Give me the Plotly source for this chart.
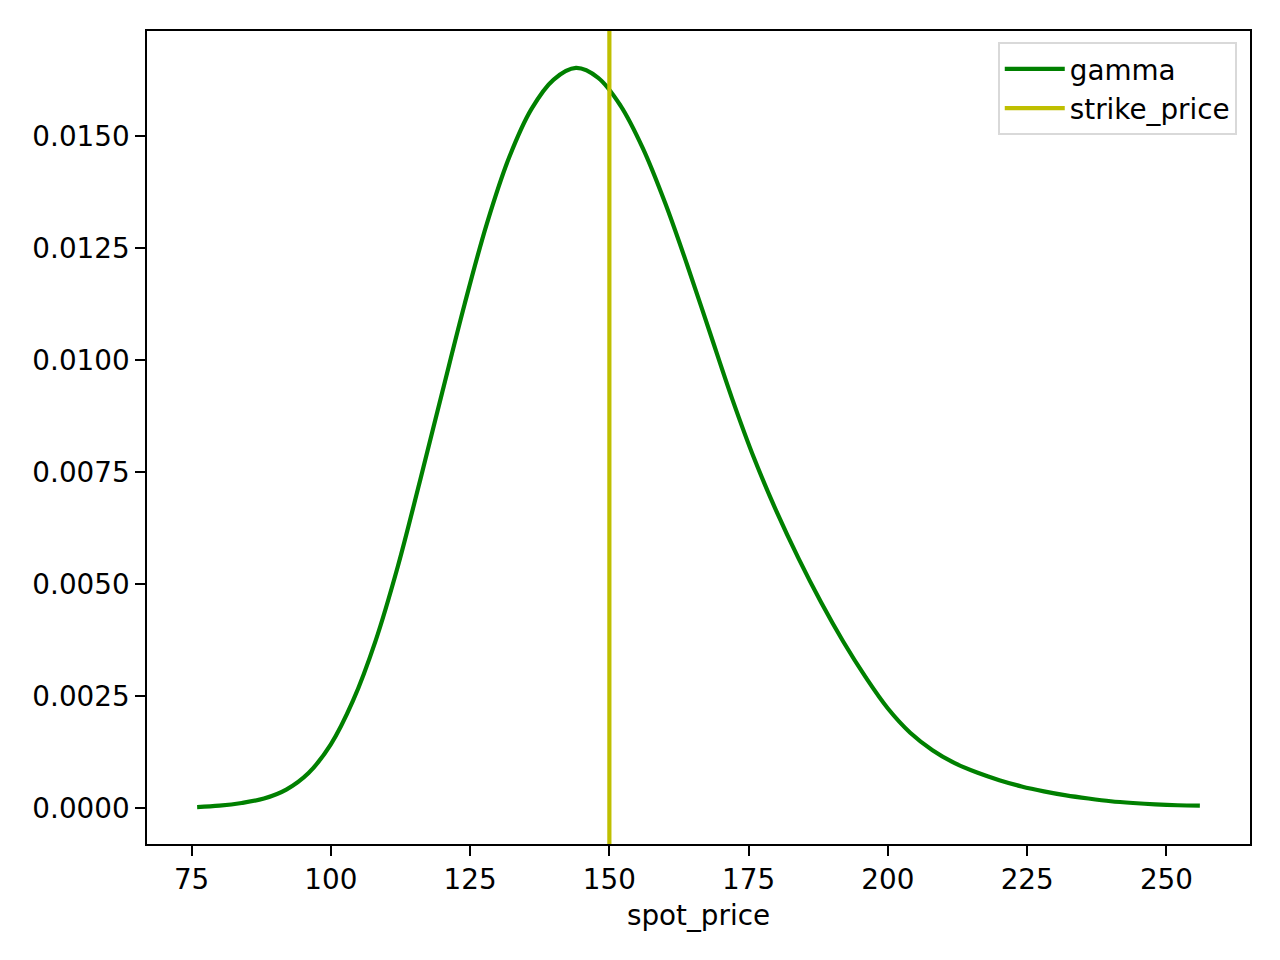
import plotly.graph_objects as go

# Data
spot_price = [76, 80, 84, 88, 92, 96, 100, 104, 108, 112, 116, 120, 124, 128, 132,
              136, 140, 144, 148, 152, 156, 160, 164, 168, 172, 176, 180, 184, 188,
              192, 196, 200, 204, 208, 212, 216, 220, 224, 228, 232, 236, 240, 244,
              248, 252, 256]
gamma = [0.00002, 0.00005, 0.00011, 0.00021, 0.00041, 0.00078, 0.00142, 0.00240,
         0.00372, 0.00538, 0.00730, 0.00928, 0.01124, 0.01304, 0.01452, 0.01560,
         0.01626, 0.01652, 0.01630, 0.01568, 0.01473, 0.01351, 0.01211, 0.01063,
         0.00915, 0.00780, 0.00662, 0.00556, 0.00459, 0.00371, 0.00292, 0.00222,
         0.00168, 0.00129, 0.00100, 0.00079, 0.00062, 0.00048, 0.00037, 0.00028,
         0.00021, 0.00015, 0.00011, 0.00008, 0.00006, 0.00005]
strike_price = 150

FONT = "DejaVu Sans"
FS = 27.8

xspan = max(spot_price) - min(spot_price)
xr = [min(spot_price) - 0.05 * xspan, max(spot_price) + 0.05 * xspan]
yspan = max(gamma) - min(gamma)
yr = [min(gamma) - 0.05 * yspan, max(gamma) + 0.05 * yspan]

fig = go.Figure()
fig.add_trace(go.Scatter(x=spot_price, y=gamma, mode="lines", name="gamma",
                         line=dict(color="#008000", width=4.2, shape="spline", smoothing=1.0)))
fig.add_trace(go.Scatter(x=[strike_price, strike_price], y=yr, mode="lines",
                         name="strike_price", line=dict(color="#bfbf00", width=4.2)))

axis_common = dict(showline=True, mirror=True, linecolor="black", linewidth=2.2,
                   ticks="outside", ticklen=9.7, tickwidth=2.2, tickcolor="black",
                   showgrid=False, zeroline=False,
                   tickfont=dict(family=FONT, size=FS, color="black"))

fig.update_layout(
    width=1280, height=960,
    paper_bgcolor="white", plot_bgcolor="white",
    margin=dict(l=139, r=38, t=23, b=124),
    font=dict(family=FONT, size=FS, color="black"),
    xaxis=dict(range=xr, tick0=0, dtick=25,
               title=dict(text="spot_price", font=dict(family=FONT, size=FS), standoff=10),
               **axis_common),
    yaxis=dict(range=yr, tick0=0, dtick=0.0025, tickformat=".4f", **axis_common),
    legend=dict(x=0.988, y=0.986, xanchor="right", yanchor="top",
                bgcolor="rgba(255,255,255,0.8)", bordercolor="#d9d9d9", borderwidth=2,
                font=dict(family=FONT, size=FS), itemwidth=60, tracegroupgap=0),
    showlegend=True,
)

fig.write_html("out.html")
